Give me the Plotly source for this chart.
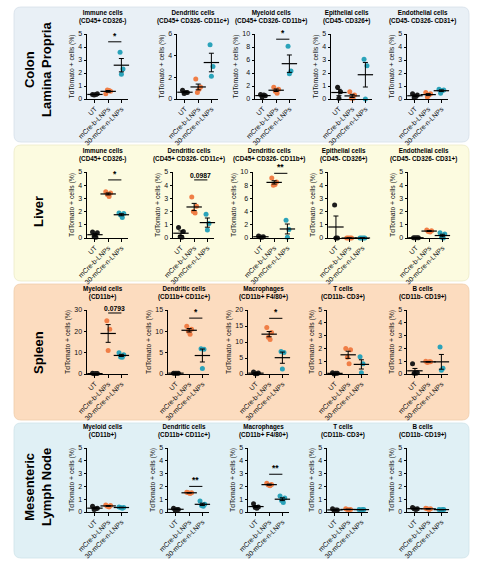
import numpy as np
import plotly.graph_objects as go

W, H = 486, 564

groups = ["UT", "mCre-b-LNPs", "30-mCre-n-LNPs"]
group_colors = ["#1c1c1c", "#f07e46", "#2ba3ba"]

# Colon lamina propria (each: UT, mCre-b-LNPs, 30-mCre-n-LNPs)
colon_immune = [[0.35, 0.40, 0.30, 0.35], [0.40, 0.60, 0.70, 0.65], [3.6, 2.3, 1.9]]
colon_dendritic = [[0.8, 0.6, 0.5, 0.6], [1.85, 1.1, 0.6, 0.9], [5.0, 3.0, 2.1]]
colon_myeloid = [[0.7, 0.5, 0.3, 0.6], [1.8, 1.5, 1.2, 0.9], [8.1, 4.3, 3.9]]
colon_epithelial = [[0.9, 0.55, 0.05], [0.55, 0.3, 0.05, 0.05], [3.05, 2.55, 0.0]]
colon_endothelial = [[0.4, 0.3, 0.1, 0.2], [0.5, 0.4, 0.15, 0.3], [0.75, 0.7, 0.45, 0.65]]

# Liver
liver_immune = [[0.45, 0.4, 0.1, 0.05], [3.5, 3.4, 3.3, 3.15], [1.9, 1.85, 1.75, 1.55]]
liver_dendritic = [[0.8, 0.5, 0.1, 0.05], [3.1, 2.4, 2.0, 1.9], [1.8, 1.1, 0.6]]
liver_dendritic_cd11b = [[0.3, 0.2, 0.15, 0.1], [9.1, 8.5, 8.0, 8.1], [2.7, 1.3, 0.1]]
liver_epithelial = [[2.5, 0.0, 0.0], [0.0, 0.0, 0.0, 0.0], [0.0, 0.0, 0.0, 0.0]]
liver_endothelial = [[0.02, 0.02, 0.02, 0.02], [0.6, 0.55, 0.5, 0.45], [0.4, 0.3, 0.05, 0.0]]

# Spleen
spleen_myeloid = [[0.3, 0.2, 0.1, 0.2], [25.0, 21.0, 11.0], [10.0, 9.0, 8.0, 7.8]]
spleen_dendritic = [[0.2, 0.2, 0.2, 0.2], [11.2, 10.5, 10.0, 9.3], [5.9, 5.8, 1.3]]
spleen_macrophages = [[0.6, 0.3, 0.1, 0.05], [14.5, 13.0, 11.5, 10.8], [7.0, 6.7, 1.6]]
spleen_t = [[0.1, 0.05, 0.0, 0.05], [2.0, 1.9, 1.3, 0.8], [1.35, 0.8, 0.1]]
spleen_b = [[0.8, 0.1, 0.05, 0.05], [1.0, 0.95, 0.9, 0.95], [2.1, 0.45, 0.3]]

# Mesenteric lymph node
mln_myeloid = [[0.45, 0.3, 0.2, 0.25], [0.55, 0.5, 0.45, 0.4], [0.4, 0.35, 0.35, 0.3]]
mln_dendritic = [[0.3, 0.2, 0.15, 0.2], [1.55, 1.5, 1.5, 1.45], [0.85, 0.6, 0.5, 0.45]]
mln_macrophages = [[0.65, 0.4, 0.35, 0.3], [2.25, 2.15, 2.1, 2.05], [1.25, 1.1, 0.9, 0.75]]
mln_t = [[0.25, 0.15, 0.1, 0.15], [0.25, 0.2, 0.2, 0.15], [0.2, 0.2, 0.15, 0.2]]
mln_b = [[0.35, 0.25, 0.25, 0.2], [0.3, 0.25, 0.25, 0.2], [0.2, 0.2, 0.15, 0.2]]

row_labels = ["Colon<br>Lamina Propria", "Liver", "Spleen", "Mesenteric<br>Lymph Node"]

colon_titles = ["Immune cells<br>(CD45+ CD326-)", "Dendritic cells<br>(CD45+ CD326- CD11c+)",
                "Myeloid cells<br>(CD45+ CD326- CD11b+)", "Epithelial cells<br>(CD45- CD326+)",
                "Endothelial cells<br>(CD45- CD326- CD31+)"]
liver_titles = ["Immune cells<br>(CD45+ CD326-)", "Dendritic cells<br>(CD45+ CD326- CD11c+)",
                "Dendritic cells<br>(CD45+ CD326- CD11b+)", "Epithelial cells<br>(CD45- CD326+)",
                "Endothelial cells<br>(CD45- CD326- CD31+)"]
spleen_titles = ["Myeloid cells<br>(CD11b+)", "Dendritic cells<br>(CD11b+ CD11c+)",
                 "Macrophages<br>(CD11b+ F4/80+)", "T cells<br>(CD11b- CD3+)", "B cells<br>(CD11b- CD19+)"]
mln_titles = spleen_titles

colon_ymax = [5, 6, 10, 5, 5]
liver_ymax = [5, 5, 10, 5, 5]
spleen_ymax = [30, 15, 20, 5, 5]
mln_ymax = [5, 5, 5, 5, 5]

# significance label and bar height between mCre-b and 30-mCre-n
colon_sig = [("*", 4.4), None, ("*", 9.2), None, None]
liver_sig = [("*", 4.4), ("0.0987", 4.4), ("**", 9.8), None, None]
spleen_sig = [("0.0793", 28.6), ("*", 13.1), ("*", 17.4), None, None]
mln_sig = [None, ("**", 2.0), ("**", 2.95), None, None]

rows = [
    ([colon_immune, colon_dendritic, colon_myeloid, colon_epithelial, colon_endothelial],
     colon_titles, colon_ymax, colon_sig),
    ([liver_immune, liver_dendritic, liver_dendritic_cd11b, liver_epithelial, liver_endothelial],
     liver_titles, liver_ymax, liver_sig),
    ([spleen_myeloid, spleen_dendritic, spleen_macrophages, spleen_t, spleen_b],
     spleen_titles, spleen_ymax, spleen_sig),
    ([mln_myeloid, mln_dendritic, mln_macrophages, mln_t, mln_b],
     mln_titles, mln_ymax, mln_sig),
]

# layout in pixels
row_top = [34, 172, 310, 448]
row_zero = [99, 238, 374, 512]
col_left = [[87, 177, 255, 331, 407], [87, 173, 253, 328, 408],
            [87, 168, 248, 327, 407], [87, 168, 248, 327, 407]]
plot_w = 41
boxes = [(14, 7, 469, 142), (14, 145, 469, 281), (14, 284, 469, 420), (14, 423, 469, 558)]
box_fill = ["#e9f0f6", "#fcfbe0", "#fcdcbf", "#e0f0f5"]
box_line = ["#d6e0ea", "#ecebc8", "#efcdab", "#cfe3ea"]
label_y = [70, 212, 353, 487]
spread = {3: [-0.1, 0.12, 0.0], 4: [-0.18, 0.18, -0.06, 0.07]}

FONT = "Liberation Sans, Arial, sans-serif"


def px(x):
    return x / W


def py(y):
    return 1 - y / H


def rounded(x0, y0, x1, y1, r=7):
    a, b, c, d = px(x0), py(y0), px(x1), py(y1)
    rx, ry = r / W, r / H
    return (f"M{a + rx},{b} L{c - rx},{b} Q{c},{b} {c},{b - ry} L{c},{d + ry} "
            f"Q{c},{d} {c - rx},{d} L{a + rx},{d} Q{a},{d} {a},{d + ry} "
            f"L{a},{b - ry} Q{a},{b} {a + rx},{b} Z")


fig = go.Figure()
shapes, annotations, axes = [], [], {}

for i, (x0, y0, x1, y1) in enumerate(boxes):
    shapes.append(dict(type="path", path=rounded(x0, y0, x1, y1), xref="paper", yref="paper",
                       fillcolor=box_fill[i], line=dict(color=box_line[i], width=0.8), layer="below"))
    annotations.append(dict(text="<b>" + row_labels[i] + "</b>", x=px(38), y=py(label_y[i]),
                            xref="paper", yref="paper", showarrow=False, textangle=-90,
                            xanchor="center", yanchor="middle",
                            font=dict(size=13, color="black", family=FONT)))

for r, (panels, titles, ymaxes, sigs) in enumerate(rows):
    for c, data in enumerate(panels):
        n = r * 5 + c + 1
        xa = "x" if n == 1 else f"x{n}"
        ya = "y" if n == 1 else f"y{n}"
        left = col_left[r][c]
        for gi, vals in enumerate(data):
            offs = spread[len(vals)]
            fig.add_trace(go.Scatter(
                x=[gi + o for o in offs], y=vals, mode="markers", xaxis=xa, yaxis=ya,
                marker=dict(size=5, color=group_colors[gi]), cliponaxis=False,
                showlegend=False, hoverinfo="y"))
        means = [float(np.mean(v)) for v in data]
        sems = [float(np.std(v, ddof=1) / np.sqrt(len(v))) for v in data]
        fig.add_trace(go.Scatter(
            x=[0, 1, 2], y=means, mode="markers", xaxis=xa, yaxis=ya, cliponaxis=False,
            marker=dict(symbol="line-ew", size=11, line=dict(color="black", width=1.2)),
            error_y=dict(type="data", array=sems, width=2.5, thickness=1, color="black"),
            showlegend=False, hoverinfo="y"))

        ymax = ymaxes[c]
        dtick = {5: 1, 6: 2, 10: 2, 15: 5, 20: 5, 30: 10}[ymax]
        axes["xaxis" if n == 1 else f"xaxis{n}"] = dict(
            domain=[px(left), px(left + plot_w)], anchor=ya, range=[-0.6, 2.5],
            tickmode="array", tickvals=[0, 1, 2], ticktext=groups, tickangle=-45,
            showline=True, linecolor="black", linewidth=1, ticks="outside", ticklen=2.5,
            tickcolor="black", tickfont=dict(size=6.8, color="#111", family=FONT),
            showgrid=False, zeroline=False, fixedrange=True, automargin=False)
        axes["yaxis" if n == 1 else f"yaxis{n}"] = dict(
            domain=[py(row_zero[r]), py(row_top[r])], anchor=xa, range=[0, ymax],
            dtick=dtick, tick0=0, showline=True, linecolor="black", linewidth=1,
            ticks="outside", ticklen=2.5, tickcolor="black",
            tickfont=dict(size=7, color="#111", family=FONT),
            title=dict(text="TdTomato + cells (%)", standoff=2,
                       font=dict(size=6.8, color="#111", family=FONT)),
            showgrid=False, zeroline=False, fixedrange=True, automargin=False)

        annotations.append(dict(text="<b>" + titles[c] + "</b>", x=px(left + plot_w / 2 - 5),
                                y=py(row_top[r] - 7), xref="paper", yref="paper",
                                showarrow=False, xanchor="center", yanchor="bottom",
                                font=dict(size=6.3, color="black", family=FONT)))
        if sigs[c] is not None:
            label, ybar = sigs[c]
            shapes.append(dict(type="line", xref=xa, yref=ya, x0=1, x1=2, y0=ybar, y1=ybar,
                               line=dict(color="black", width=1)))
            annotations.append(dict(text="<b>" + label + "</b>", x=1.5, y=ybar, xref=xa, yref=ya,
                                    showarrow=False, xanchor="center", yanchor="bottom", yshift=-1,
                                    font=dict(size=8.5 if "*" in label else 6.8,
                                              color="black", family=FONT)))

fig.update_layout(
    width=W, height=H, autosize=False, margin=dict(l=0, r=0, t=0, b=0, autoexpand=False),
    paper_bgcolor="white", plot_bgcolor="rgba(0,0,0,0)",
    shapes=shapes, annotations=annotations, font=dict(family=FONT), **axes)

fig.write_html("out.html", config={"displayModeBar": False},
               post_script="document.body.style.margin='0';")
